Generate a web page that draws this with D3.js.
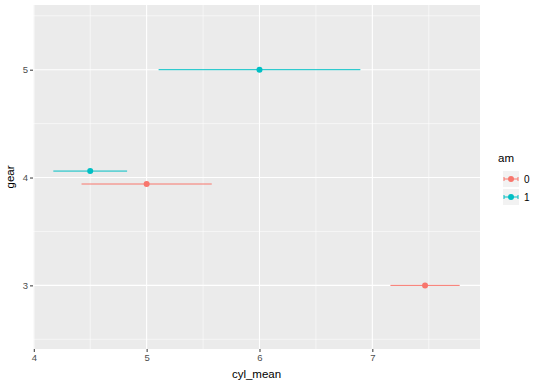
<!DOCTYPE html>
<html><head><meta charset="utf-8">
<script src="https://cdn.jsdelivr.net/npm/d3@7"></script>
<style>body{margin:0;background:#fff;} text{font-family:"Liberation Sans",Arial,sans-serif;}</style>
</head><body>
<svg id="chart" width="540" height="386"></svg>
<script>
// Data
const amGroups = ["0", "1"];
const gearValues = [3, 4, 4, 5];          // gear of each point
const amValues = ["0", "0", "1", "1"];    // am of each point
const gearPos = [3, 3.94, 4.06, 5];        // dodged vertical position
const cylMean = [7.467, 5.0, 4.5, 6.0];
const cylLow = [7.160, 4.423, 4.173, 5.106];
const cylHigh = [7.774, 5.577, 4.827, 6.894];
const xTicks = [4, 5, 6, 7];
const yTicks = [3, 4, 5];
const colors = ["#F8766D", "#00BFC4"];

const svg = d3.select("#chart");
const panel = {left: 33, top: 5, right: 480, bottom: 349};
const x = d3.scaleLinear().domain([3.993, 7.954]).range([panel.left, panel.right]);
const y = d3.scaleLinear().domain([2.41, 5.60]).range([panel.bottom, panel.top]);
const color = d3.scaleOrdinal().domain(amGroups).range(colors);

svg.append("rect").attr("x", panel.left).attr("y", panel.top)
  .attr("width", panel.right - panel.left).attr("height", panel.bottom - panel.top)
  .attr("fill", "#EBEBEB");

const grid = svg.append("g");
const xMinor = [4.5, 5.5, 6.5, 7.5];
const yMinor = [2.5, 3.5, 4.5, 5.5];
grid.selectAll(".xm").data(xMinor).enter().append("line")
  .attr("x1", d => x(d)).attr("x2", d => x(d)).attr("y1", panel.top).attr("y2", panel.bottom)
  .attr("stroke", "#fff").attr("stroke-width", 0.55);
grid.selectAll(".ym").data(yMinor.filter(d => y(d) > panel.top && y(d) < panel.bottom)).enter().append("line")
  .attr("y1", d => y(d)).attr("y2", d => y(d)).attr("x1", panel.left).attr("x2", panel.right)
  .attr("stroke", "#fff").attr("stroke-width", 0.55);
grid.selectAll(".xM").data(xTicks).enter().append("line")
  .attr("x1", d => x(d)).attr("x2", d => x(d)).attr("y1", panel.top).attr("y2", panel.bottom)
  .attr("stroke", "#fff").attr("stroke-width", 1.1);
grid.selectAll(".yM").data(yTicks).enter().append("line")
  .attr("y1", d => y(d)).attr("y2", d => y(d)).attr("x1", panel.left).attr("x2", panel.right)
  .attr("stroke", "#fff").attr("stroke-width", 1.1);

// Axes
const xAxis = svg.append("g").attr("transform", `translate(0,${panel.bottom})`)
  .call(d3.axisBottom(x).tickValues(xTicks).tickSize(3).tickPadding(2).tickFormat(d3.format("d")));
const yAxis = svg.append("g").attr("transform", `translate(${panel.left},0)`)
  .call(d3.axisLeft(y).tickValues(yTicks).tickSize(3).tickPadding(2).tickFormat(d3.format("d")));
[xAxis, yAxis].forEach(a => {
  a.select(".domain").remove();
  a.selectAll(".tick line").attr("stroke", "#333").attr("stroke-width", 1);
  a.selectAll(".tick text").attr("fill", "#4D4D4D").style("font-size", "9.5px");
});

// Error bars
const idx = d3.range(cylMean.length);
svg.append("g").selectAll("line").data(idx).enter().append("line")
  .attr("x1", i => x(cylLow[i])).attr("x2", i => x(cylHigh[i]))
  .attr("y1", i => y(gearPos[i])).attr("y2", i => y(gearPos[i]))
  .attr("stroke", i => color(amValues[i])).attr("stroke-width", 1);
svg.append("g").selectAll("circle").data(idx).enter().append("circle")
  .attr("cx", i => x(cylMean[i])).attr("cy", i => y(gearPos[i])).attr("r", 3)
  .attr("fill", i => color(amValues[i]));

// Axis titles
svg.append("text").attr("x", (panel.left + panel.right) / 2).attr("y", 378)
  .attr("text-anchor", "middle").style("font-size", "11.5px").attr("fill", "#000").text("cyl_mean");
svg.append("text").attr("transform", `translate(14,${(panel.top + panel.bottom) / 2}) rotate(-90)`)
  .attr("text-anchor", "middle").style("font-size", "11.5px").attr("fill", "#000").text("gear");

// Legend
const lg = svg.append("g");
lg.append("text").attr("x", 498).attr("y", 162).style("font-size", "11.5px").text("am");
amGroups.forEach((g, k) => {
  const cy = 179 + k * 18;
  lg.append("rect").attr("x", 503).attr("y", cy - 8).attr("width", 16).attr("height", 16).attr("fill", "#F2F2F2");
  lg.append("line").attr("x1", 504).attr("x2", 518).attr("y1", cy).attr("y2", cy)
    .attr("stroke", color(g)).attr("stroke-width", 1);
  lg.append("line").attr("x1", 504).attr("x2", 504).attr("y1", cy - 2).attr("y2", cy + 2).attr("stroke", color(g));
  lg.append("line").attr("x1", 518).attr("x2", 518).attr("y1", cy - 2).attr("y2", cy + 2).attr("stroke", color(g));
  lg.append("circle").attr("cx", 511).attr("cy", cy).attr("r", 3).attr("fill", color(g));
  lg.append("text").attr("x", 524).attr("y", cy + 3.5).style("font-size", "10px").attr("fill", "#000").text(g);
});
</script>
</body></html>
